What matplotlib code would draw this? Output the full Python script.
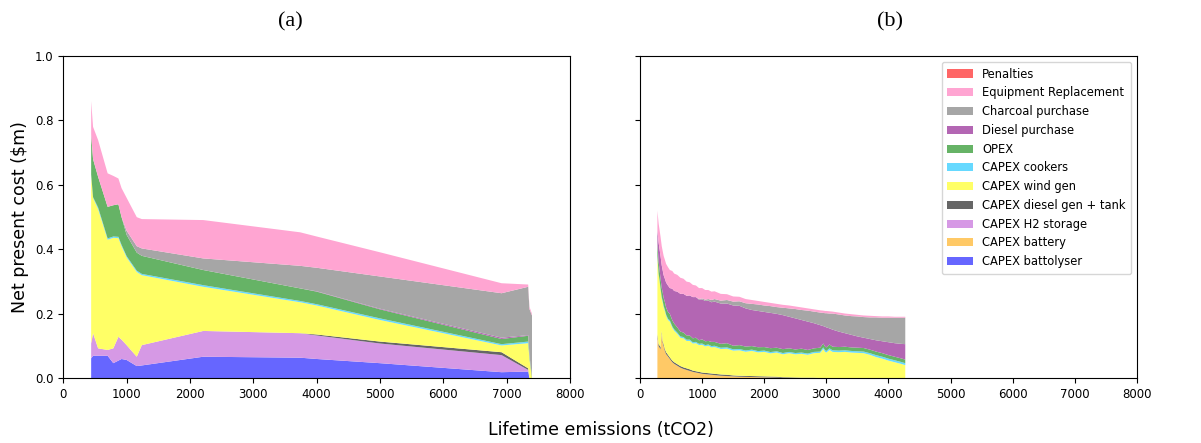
import matplotlib.pyplot as plt

# stacking order (bottom -> top)
labels = ["CAPEX battolyser", "CAPEX battery", "CAPEX H2 storage",
          "CAPEX diesel gen + tank", "CAPEX wind gen", "CAPEX cookers", "OPEX",
          "Diesel purchase", "Charcoal purchase", "Equipment Replacement", "Penalties"]
colors = ["#6666ff", "#ffc966", "#d699e5", "#666666", "#ffff66", "#66d9ff",
          "#66b366", "#b366b3", "#a6a6a6", "#ffa5d2", "#ff6666"]

# ---- panel (a) ----
xa = [440, 470, 550, 700, 790, 870, 920, 1000, 1160, 1240, 2210, 3740, 4000, 5000, 6920, 7340, 7360, 7400]
a_battolyser = [.062, .07, .07, .07, .047, .055, .06, .057, .038, .04, .067, .064, .06, .047, .019, .021, 0, 0]
a_battery = [0] * len(xa)
a_h2 = [.046, .07, .023, .018, .046, .074, .06, .046, .029, .063, .08, .076, .073, .061, .053, .005, 0, 0]
a_dieselgen = [0, 0, 0, 0, 0, 0, 0, 0, 0, 0, 0, 0, .003, .006, .009, .005, 0, 0]
a_wind = [.522, .42, .432, .342, .343, .306, .29, .272, .263, .217, .137, .096, .09, .067, .021, .078, .06, 0]
a_cookers = [.002, .002, .005, .004, .004, .004, .004, .004, .004, .004, .005, .004, .004, .005, .004, .005, .003, 0]
a_opex = [.125, .118, .095, .098, .097, .101, .086, .066, .056, .056, .047, .039, .039, .028, .016, .018, .007, .005]
a_diesel = [0, 0, 0, 0, 0, 0, 0, 0, 0, 0, 0, 0, .001, .002, .004, .002, 0, 0]
a_charcoal = [0, 0, 0, 0, 0, 0, 0, .013, .02, .023, .036, .07, .073, .1, .138, .15, .145, .19]
a_replacement = [.103, .10, .114, .104, .091, .08, .09, .102, .09, .091, .119, .104, .097, .075, .031, .007, .007, .005]
a_penalties = [0] * len(xa)

# ---- panel (b) ----
xb = [280, 300, 315, 330, 350, 365, 380, 400, 420, 450, 480, 520, 550, 600, 650, 700, 750, 800, 850, 900,
      950, 1000, 1050, 1100, 1150, 1200, 1300, 1400, 1500, 1600, 1700, 1800, 1900, 2000, 2100, 2200, 2300,
      2400, 2500, 2600, 2700, 2800, 2900, 2950, 2980, 3000, 3050, 3100, 3200, 3300, 3400, 3500, 3600,
      3700, 3800, 3900, 4000, 4100, 4200, 4270]
b_battolyser = [0] * len(xb)
b_battery = [.13, .10, .095, .09, .14, .11, .10, .085, .075, .068, .06, .05, .045, .039, .033, .029, .026,
             .023, .02, .018, .016, .014, .013, .012, .011, .010, .008, .007, .006, .005, .0045, .004,
             .0035, .003, .0025, .002, .0015, .001, .0005] + [0] * 21
b_h2 = [0] * len(xb)
b_dieselgen = [.006, .006, .007, .006, .007, .006, .006, .006, .006, .005, .005, .005, .005, .005, .005,
               .005, .005, .005, .004, .004, .004, .004, .004, .004, .004, .004, .004, .004, .003, .003,
               .003, .003, .003, .003, .003, .003, .002, .002, .002, .002, .002, .002, .001] + [.001] * 17
b_wind = [.241, .216, .20, .181, .101, .12, .115, .118, .113, .108, .111, .102, .098, .094, .088, .090,
          .085, .088, .084, .087, .083, .086, .082, .085, .081, .083, .079, .081, .077, .079, .075, .078,
          .074, .076, .072, .075, .071, .075, .072, .074, .071, .076, .078, .09, .081, .079, .087, .081,
          .08, .081, .079, .078, .077, .072, .065, .06, .054, .049, .044, .04]
b_cookers = [.003] * 4 + [.004] * 39 + [.005] * 11 + [.006] * 6
b_opex = [.04, .035, .032, .03, .028, .027, .025, .024, .022, .021, .02, .019, .018, .016, .015, .014, .013,
          .013, .012, .013, .011, .013, .012, .011, .013, .012, .012, .013, .011, .012, .012, .011, .012,
          .011, .012, .011, .012, .011, .011, .012, .011, .011, .012, .012, .011, .011, .012, .011, .011,
          .011, .011, .011, .011, .011, .011, .011, .011, .011, .011, .011]
b_diesel = [.04, .06, .063, .07, .07, .068, .07, .072, .077, .082, .08, .098, .101, .111, .117, .12, .123,
            .124, .128, .126, .126, .124, .125, .125, .123, .125, .125, .123, .125, .122, .1185, .112,
            .1125, .109, .1095, .105, .1055, .098, .0965, .089, .088, .078, .07, .054, .062, .062, .05,
            .053, .048, .042, .039, .035, .032, .033, .035, .037, .04, .042, .045, .048]
b_charcoal = [0] * 20 + [.002, .003, .004, .005, .007, .008, .009, .011, .012, .014, .016, .019, .02, .02,
                         .021, .021, .023, .026, .029, .031, .034, .036, .039, .041, .042, .044, .046, .05,
                         .053, .055, .058, .062, .064, .067, .071, .073, .076, .079, .081, .082]
b_replacement = [.06, .06, .06, .06, .06, .06, .06, .059, .058, .057, .056, .055, .054, .052, .05, .047,
                 .044, .041, .038, .036, .034, .032, .03, .028, .026, .024, .021, .018, .016, .014, .013,
                 .012, .011, .011, .010, .010, .009, .009, .008, .008, .007, .007, .007, .007, .007, .007,
                 .007, .006, .006, .006, .006, .005, .005, .005, .004, .004, .004, .003, .003, .003]
b_penalties = [0] * len(xb)

fig = plt.figure(figsize=(12.01, 4.43), dpi=100)
ax1 = fig.add_axes([0.0527, 0.146, 0.4219, 0.7276])
ax2 = fig.add_axes([0.5329, 0.146, 0.4138, 0.7276], sharey=ax1)

stack_a = [a_battolyser, a_battery, a_h2, a_dieselgen, a_wind, a_cookers, a_opex,
           a_diesel, a_charcoal, a_replacement, a_penalties]
stack_b = [b_battolyser, b_battery, b_h2, b_dieselgen, b_wind, b_cookers, b_opex,
           b_diesel, b_charcoal, b_replacement, b_penalties]

ax1.stackplot(xa, stack_a, colors=colors, labels=labels, linewidth=0)
polys = ax2.stackplot(xb, stack_b, colors=colors, labels=labels, linewidth=0)

for ax in (ax1, ax2):
    ax.set_xlim(0, 8000)
    ax.set_ylim(0, 1.0)
    ax.set_xticks(range(0, 8001, 1000))
    ax.set_yticks([0.0, 0.2, 0.4, 0.6, 0.8, 1.0])
    ax.tick_params(labelsize=8.5)
plt.setp(ax2.get_yticklabels(), visible=False)

ax1.set_ylabel("Net present cost ($m)", fontsize=12.5)
fig.text(0.5, 0.03, "Lifetime emissions (tCO2)", ha="center", va="center", fontsize=12.5)
fig.text(290 / 1201, 0.95, "(a)", ha="center", va="center", fontsize=16, family="Liberation Serif")
fig.text(890 / 1201, 0.95, "(b)", ha="center", va="center", fontsize=16, family="Liberation Serif")

ax2.legend(polys[::-1], labels[::-1], loc="upper right", fontsize=8.3, handlelength=2.2,
           labelspacing=0.5, borderpad=0.5)

fig.savefig("out.png", dpi=100)
